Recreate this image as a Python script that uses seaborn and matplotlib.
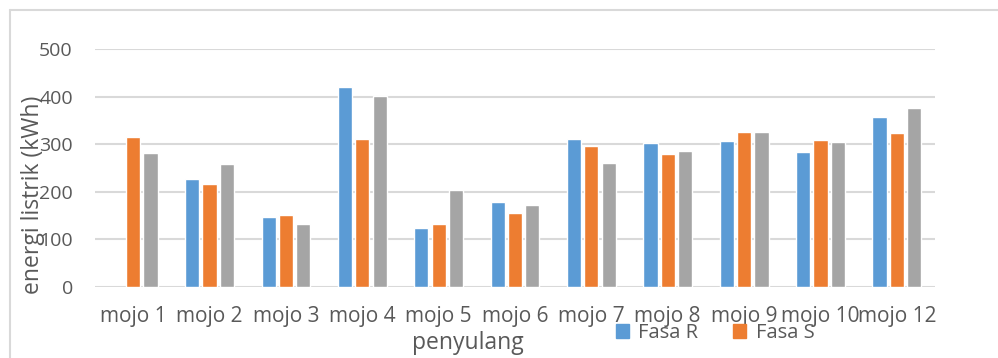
import numpy as np
import pandas as pd
import matplotlib
matplotlib.use("Agg")
import matplotlib.pyplot as plt
from matplotlib.lines import Line2D
import seaborn as sns

# --- data ---
penyulang = ["mojo 1", "mojo 2", "mojo 3", "mojo 4", "mojo 5", "mojo 6",
             "mojo 7", "mojo 8", "mojo 9", "mojo 10", "mojo 12"]
fasa_r = [np.nan, 227, 147, 421, 124, 179, 311, 302, 306, 284, 358]
fasa_s = [315, 216, 152, 312, 131, 155, 296, 279, 325, 310, 324]
fasa_t = [282, 258, 132, 402, 204, 172, 260, 285, 325, 305, 376]
series_names = ["Fasa R", "Fasa S", "Fasa T"]
colors = ["#5b9bd5", "#ed7d31", "#a5a5a5"]

df = pd.DataFrame({"penyulang": penyulang,
                   "Fasa R": fasa_r, "Fasa S": fasa_s, "Fasa T": fasa_t})
long = df.melt(id_vars="penyulang", var_name="fasa", value_name="energi")

sns.set_style("white")
plt.rcParams["font.family"] = ["Open Sans", "DejaVu Sans"]
text_col = "#595959"
grid_col = "#d9d9d9"

fig = plt.figure(figsize=(9.98, 3.58), dpi=100)
ax = fig.add_axes([0.0952, 0.1992, 0.8417, 0.6631])

sns.barplot(data=long, x="penyulang", y="energi", hue="fasa",
            hue_order=series_names, palette=colors, order=penyulang,
            width=0.68, gap=0.18, ax=ax, legend=False, zorder=3,
            saturation=1)

ax.set_xlim(-0.5, len(penyulang) - 0.5)
ax.set_ylim(0, 500)
ax.set_yticks([0, 100, 200, 300, 400, 500])
ax.yaxis.grid(True, color=grid_col, linewidth=1.5, zorder=0)
ax.set_axisbelow(True)
for s in ax.spines.values():
    s.set_visible(False)
ax.tick_params(axis="x", length=0, labelsize=15, labelcolor=text_col, pad=14)
ax.tick_params(axis="y", length=0, labelsize=14, labelcolor=text_col, pad=16)
ax.set_xlabel("")
ax.set_ylabel("")

fig.text(33 / 998, 1 - 195 / 358, "energi listrik (kWh)", rotation=90,
         ha="center", va="center", fontsize=16.5, color=text_col)
fig.text(468 / 998, 1 - 343 / 358, "penyulang", ha="center", va="center",
         fontsize=16.5, color=text_col)

# legend (only two entries visible in the reference)
handles = [plt.Rectangle((0, 0), 1, 1, color=c) for c in colors[:2]]
fig.legend(handles, series_names[:2], loc="center left",
           bbox_to_anchor=(616 / 998, 1 - 333 / 358), ncol=2, frameon=False,
           handlelength=0.65, handleheight=0.65, handletextpad=0.45,
           columnspacing=1.75, fontsize=14.5, labelcolor=text_col,
           borderaxespad=0, borderpad=0)

# chart-area border (left and top visible)
fig.add_artist(Line2D([10 / 998, 10 / 998], [0, 1 - 10 / 358],
                      transform=fig.transFigure, color=grid_col, lw=1.5))
fig.add_artist(Line2D([10 / 998, 1], [1 - 10 / 358, 1 - 10 / 358],
                      transform=fig.transFigure, color=grid_col, lw=1.5))

fig.savefig("out.png", dpi=100)
